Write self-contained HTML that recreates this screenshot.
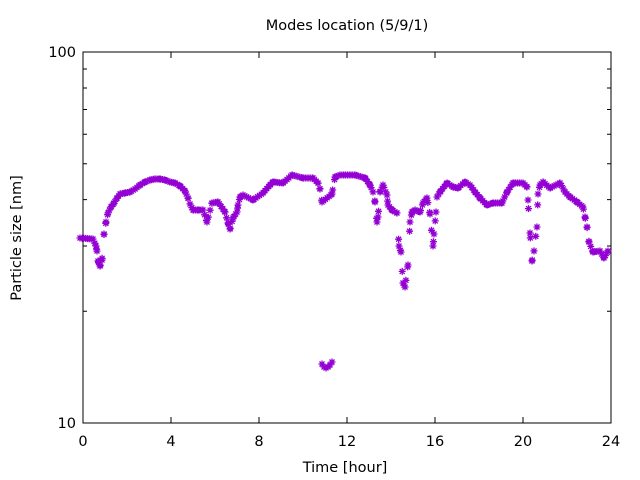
<!DOCTYPE html>
<html><head><meta charset="utf-8"><style>
body{margin:0;background:#fff;}
svg{display:block;font-family:"DejaVu Sans",sans-serif;}
</style></head><body>
<svg id="s" width="640" height="480" xmlns="http://www.w3.org/2000/svg">
<rect width="640" height="480" fill="#fff"/>
<g id="ticks" stroke="#000" stroke-width="1"></g>
<rect x="83" y="52" width="528" height="371" fill="none" stroke="#000" stroke-width="1"/>
<g font-size="14.5" fill="#000">
<text x="347" y="30" text-anchor="middle">Modes location (5/9/1)</text>
<text x="345" y="472" text-anchor="middle">Time [hour]</text>
<text transform="translate(21,238) rotate(-90)" text-anchor="middle">Particle size [nm]</text>
<text x="76" y="57" text-anchor="end">100</text>
<text x="76" y="428" text-anchor="end">10</text>
<text x="83" y="446" text-anchor="middle">0</text>
<text x="171" y="446" text-anchor="middle">4</text>
<text x="259" y="446" text-anchor="middle">8</text>
<text x="347" y="446" text-anchor="middle">12</text>
<text x="435" y="446" text-anchor="middle">16</text>
<text x="523" y="446" text-anchor="middle">20</text>
<text x="611" y="446" text-anchor="middle">24</text>
</g>
<g id="pts" stroke="#9400d3" stroke-width="1.3" fill="none"></g>
</svg>
<script>
var NS="http://www.w3.org/2000/svg";
var t=document.getElementById("ticks"),d="";
for(var i=0;i<=6;i++){var x=83+88*i;d+="M"+x+" 423v-6M"+x+" 52v6";}
for(var k=2;k<=9;k++){var y=423-371*Math.log10(k);d+="M83 "+y.toFixed(1)+"h4M611 "+y.toFixed(1)+"h-4";}
d+="M83 52h8M611 52h-8M83 423h8M611 423h-8";
var p=document.createElementNS(NS,"path");p.setAttribute("d",d);t.appendChild(p);
var K=[[80,238],[93,239],[96,246],[97,251],[98,261],[100,266],[102,260],[104,234],[106,222],[108,213],[111,207],[114,203],[117,198],[120,194],[125,193],[130,192],[135,189],[140,185],[145,182],[150,180],[155,179],[160,179],[165,180],[170,182],[175,183],[180,186],[185,191],[188,198],[190,204],[193,210],[198,210],[203,210],[207,222],[212,203],[218,202],[225,212],[228,223],[230,229],[233,218],[237,212],[238,205],[240,197],[243,195],[253,200],[263,193],[270,185],[273,182],[283,183],[292,175],[303,178],[313,178],[318,183],[320,189],[322,202],[332,194],[335,177],[340,175],[355,175],[365,178],[370,185],[373,192],[375,202],[377,222],[378,217],[380,192],[383,185],[387,195],[388,205],[392,210],[397,213],[399,246],[401,252],[403,283],[405,287],[408,265],[410,222],[412,212],[415,210],[420,212],[423,203],[427,198],[430,214],[433,246],[434,234],[436,212],[437,197],[440,192],[447,183],[453,187],[458,188],[465,182],[470,185],[475,192],[480,198],[487,205],[493,203],[502,203],[507,192],[513,183],[523,183],[527,187],[528,200],[530,233],[532,261],[534,251],[537,227],[538,194],[540,185],[543,182],[550,188],[560,183],[565,192],[570,197],[577,202],[583,207],[585,217],[587,227],[589,242],[593,252],[600,251],[604,258],[608,251]];
var P=K.slice();
P.push([322,364],[324,367],[326,368],[328,367],[330,365],[332,362]);
for(var x=82;x<=609;x+=1.83){
 for(var j=0;j<K.length-1;j++){if(x>=K[j][0]&&x<=K[j+1][0]){var f=(x-K[j][0])/(K[j+1][0]-K[j][0]);P.push([x,K[j][1]+f*(K[j+1][1]-K[j][1])]);break;}}
}
var g=document.getElementById("pts"),s="";
P.forEach(function(q){var a=q[0].toFixed(1),b=q[1].toFixed(1),x=q[0],y=q[1];
s+="M"+(x-3.5).toFixed(1)+" "+b+"h7M"+a+" "+(y-3.5).toFixed(1)+"v7M"+(x-2.5).toFixed(1)+" "+(y-2.5).toFixed(1)+"l5 5M"+(x-2.5).toFixed(1)+" "+(y+2.5).toFixed(1)+"l5 -5";});
var pp=document.createElementNS(NS,"path");pp.setAttribute("d",s);g.appendChild(pp);
</script>
</body></html>
